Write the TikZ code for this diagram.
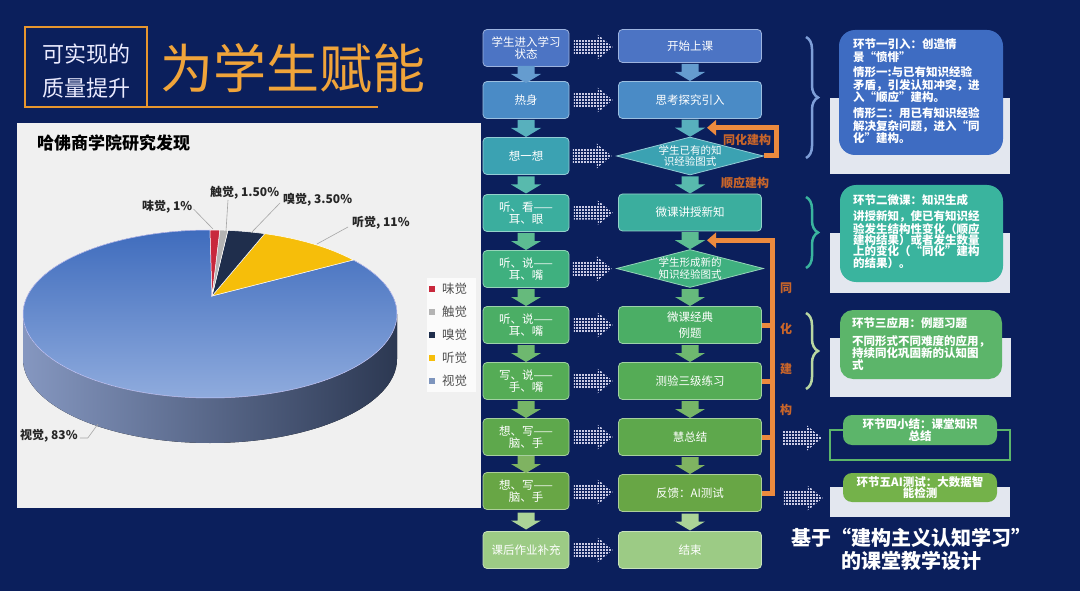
\documentclass[tikz,border=0pt]{standalone}
\usepackage{fontspec}
\setmainfont{Noto Sans CJK SC}
\usetikzlibrary{calc,decorations.pathreplacing,shapes.geometric,arrows.meta}
\definecolor{bg}{HTML}{0B1F5C}
\definecolor{orng}{HTML}{EC8A3E}
\definecolor{orngtxt}{HTML}{C9652A}
\definecolor{ttl}{HTML}{F0A43A}
\definecolor{ttlbox}{HTML}{E8962E}
\definecolor{panel}{HTML}{F0F0F0}
\definecolor{dotc}{HTML}{C9C9E4}
\definecolor{cA}{HTML}{4C74C4}
\definecolor{cB}{HTML}{4A8BC6}
\definecolor{cC}{HTML}{3BA2B2}
\definecolor{cD}{HTML}{3BAE9E}
\definecolor{cE}{HTML}{3FB07F}
\definecolor{cF}{HTML}{4BAE65}
\definecolor{cG}{HTML}{55AC56}
\definecolor{cH}{HTML}{5EA84C}
\definecolor{cI}{HTML}{68A645}
\definecolor{cJ}{HTML}{9CCB85}
\definecolor{pieRed}{HTML}{C8283C}
\definecolor{pieGrey}{HTML}{B4B4B4}
\definecolor{pieNavy}{HTML}{1F2E4C}
\definecolor{pieGold}{HTML}{F6BE0A}
\definecolor{pieTop}{HTML}{3F6CBD}
\definecolor{pieBot}{HTML}{94AFDF}
\definecolor{sideL}{HTML}{8597C0}
\definecolor{sideM}{HTML}{53638A}
\definecolor{sideR}{HTML}{2C3852}
\definecolor{rA}{HTML}{3E6CC2}
\definecolor{rB}{HTML}{3AB49E}
\definecolor{rC}{HTML}{5CB56A}
\definecolor{rE}{HTML}{74B24A}
\definecolor{greyr}{HTML}{E3E7EF}
\definecolor{braceA}{HTML}{7E9ED8}
\definecolor{braceC}{HTML}{B9D7A2}
\definecolor{lbl}{HTML}{262626}
\definecolor{lgd}{HTML}{505050}
\tikzset{
  flowbox/.style={rounded corners=4pt, fill=#1, draw=#1!55!white, line width=0.8pt,
    text=white, align=center, inner sep=1pt, minimum height=37pt,
    font=\fontsize{11.5}{12.5}\selectfont},
  lbox/.style={flowbox=#1, minimum width=86pt},
  mbox/.style={flowbox=#1, minimum width=143pt},
  dia/.style={diamond, fill=#1, draw=#1!55!white, line width=0.8pt,
    minimum width=147pt, minimum height=38pt, inner sep=0pt},
  diatext/.style={text=white, align=center, font=\fontsize{10.5}{11.5}\selectfont},
  card/.style={fill=#1, inner sep=0pt},
  greybox/.style={fill=greyr, inner sep=0pt},
  rtext/.style={text=white, align=left, anchor=north west, inner sep=0pt,
    font=\bfseries\fontsize{11.5}{12.3}\selectfont},
  ctext/.style={text=white, align=center, inner sep=0pt,
    font=\bfseries\fontsize{11.5}{11.5}\selectfont},
  fbline/.style={orng, line width=5pt},
  fbk/.style={fbline, -{Triangle[length=9pt,width=15pt]}},
  fbtext/.style={text=orngtxt, font=\bfseries\fontsize{12}{12}\selectfont, inner sep=0pt},
  plabel/.style={text=lbl, font=\bfseries\fontsize{12}{12}\selectfont, inner sep=0pt},
  leader/.style={draw=black!35, line width=0.6pt},
  lgdtext/.style={text=lgd, font=\fontsize{12.5}{12.5}\selectfont, anchor=west, inner sep=0pt},
  bracestyle/.style={decorate, decoration={brace, amplitude=12pt}, line width=2.5pt},
  pics/downarr/.style={code={\fill[#1] (-8.5,-8) -- (8.5,-8) -- (8.5,0) -- (15,0) -- (0,9) -- (-15,0) -- (-8.5,0) -- cycle;}},
  pics/dotarr/.style={code={
    \begin{scope}
    \clip (-20,-7) -- (4,-7) -- (4,-12.5) -- (19,0) -- (4,12.5) -- (4,7) -- (-20,7) -- cycle;
    \foreach \i in {0,...,13}{\foreach \j in {-4,...,4}{\fill[dotc] (-20.5+3*\i,3*\j-1) rectangle ++(2,2);}}
    \end{scope}}}
}
\begin{document}
\begin{tikzpicture}[x=1pt,y=-1pt]
\fill[bg] (0,0) rectangle (1080,591);
\useasboundingbox (0,0) rectangle (1080,591);

% ---------- title ----------
\draw[ttlbox, line width=2.5pt] (147,107) -- (25,107) -- (25,27) -- (147,27) -- (147,107) -- (378,107);
\node[text=white!92!blue, font=\fontsize{22}{22}\selectfont] (t1) at (86,54) {可实现的};
\node[text=white!92!blue, font=\fontsize{22}{22}\selectfont] (t2) at (86,88) {质量提升};
\node[text=ttl, font=\fontsize{53}{53}\selectfont] (t3) at (293,68) {为学生赋能};

% ---------- chart panel ----------
\fill[panel] (17,123) rectangle (481,508);
\node[text=black, font=\bfseries\fontsize{17}{17}\selectfont, anchor=west, inner sep=0pt] (ptitle) at (37,143) {哈佛商学院研究发现};

\coordinate (c) at (210,314);
\coordinate (apex) at (212,296);
% side
\fill[left color=sideL, middle color=sideM, right color=sideR]
  (23,314) -- (23,359) arc[start angle=180,end angle=0,x radius=187,y radius=84]
  -- (397,314) arc[start angle=0,end angle=180,x radius=187,y radius=84] -- cycle;
% slices
\fill[top color=pieTop, bottom color=pieBot, draw=white!80!blue, line width=0.5pt]
  (apex) -- ($(c)+(-40:187 and 84)$) arc[start angle=-40,end angle=270,x radius=187,y radius=84] -- cycle;
\fill[pieGold, draw=white!80, line width=0.5pt]
  (apex) -- ($(c)+(-73:187 and 84)$) arc[start angle=-73,end angle=-40,x radius=187,y radius=84] -- cycle;
\fill[pieNavy, draw=white!80, line width=0.5pt]
  (apex) -- ($(c)+(-84.5:187 and 84)$) arc[start angle=-84.5,end angle=-73,x radius=187,y radius=84] -- cycle;
\fill[pieGrey, draw=white!80, line width=0.5pt]
  (apex) -- ($(c)+(-87:187 and 84)$) arc[start angle=-87,end angle=-84.5,x radius=187,y radius=84] -- cycle;
\fill[pieRed, draw=white!80, line width=0.5pt]
  (apex) -- ($(c)+(-90:187 and 84)$) arc[start angle=-90,end angle=-87,x radius=187,y radius=84] -- cycle;

% labels
\node[plabel, anchor=west] (lw) at (142,207) {味觉, 1\%};
\node[plabel, anchor=west] (lc) at (210,193) {触觉, 1.50\%};
\node[plabel, anchor=west] (lx) at (283,200) {嗅觉, 3.50\%};
\node[plabel, anchor=west] (lt) at (352,223) {听觉, 11\%};
\node[plabel, anchor=west] (ls) at (20,436) {视觉, 83\%};
\coordinate (pw) at (213,229);
\coordinate (pc) at (226,231);
\coordinate (px) at (251,233);
\coordinate (pt) at (317,244);
\coordinate (ps) at (98,424);
\draw[leader] (lw.east) ++(1,2) -- (pw);
\draw[leader] (228,200) -- (pc);
\draw[leader] (lx.west) ++(-3,3) -- (px);
\draw[leader] (lt.west) ++(-4,4) -- (pt);
\draw[leader] (ls.east) ++(2,2) -- ++(8,0) -- (ps);

% legend
\fill[white!97!gray] (427,278) rectangle (476,392);
\fill[pieRed] (429,286) rectangle ++(6,6);
\fill[pieGrey] (429,309) rectangle ++(6,6);
\fill[pieNavy] (429,332) rectangle ++(6,6);
\fill[pieGold] (429,355) rectangle ++(6,6);
\fill[pieBot!85!black] (429,378) rectangle ++(6,6);
\node[lgdtext] (g1) at (442,289) {味觉};
\node[lgdtext] (g2) at (442,312) {触觉};
\node[lgdtext] (g3) at (442,335) {嗅觉};
\node[lgdtext] (g4) at (442,358) {听觉};
\node[lgdtext] (g5) at (442,381) {视觉};

% ---------- flow: left column ----------
\node[lbox=cA] (l1) at (526,48) {学生进入学习\\状态};
\node[lbox=cB] (l2) at (526,100) {热身};
\node[lbox=cC] (l3) at (526,156) {想一想};
\node[lbox=cD] (l4) at (526,213) {听、看——\\耳、眼};
\node[lbox=cE] (l5) at (526,269) {听、说——\\耳、嘴};
\node[lbox=cF] (l6) at (526,325) {听、说——\\耳、嘴};
\node[lbox=cG] (l7) at (526,381) {写、说——\\手、嘴};
\node[lbox=cH] (l8) at (526,437) {想、写——\\脑、手};
\node[lbox=cI] (l9) at (526,491) {想、写——\\脑、手};
\node[lbox=cJ] (l10) at (526,550) {课后作业补充};

% ---------- flow: middle column ----------
\node[mbox=cA, minimum height=33pt] (m1) at (690,46) {开始上课};
\node[mbox=cB] (m2) at (690,100) {思考探究引入};
\node[dia=cC] (d1) at (690,156) {};
\node[diatext] (d1t) at (d1) {学生已有的知\\识经验图式};
\node[mbox=cD] (m4) at (690,212.5) {微课讲授新知};
\node[dia=cE] (d2) at (690,268.5) {};
\node[diatext] (d2t) at (d2) {学生形成新的\\知识经验图式};
\node[mbox=cF] (m6) at (690,325) {微课经典\\[3pt]例题};
\node[mbox=cG] (m7) at (690,381) {测验三级练习};
\node[mbox=cH] (m8) at (690,437) {慧总结};
\node[mbox=cI] (m9) at (690,493) {反馈：AI测试};
\node[mbox=cJ] (m10) at (690,550) {结束};

% down arrows
\foreach \a/\b/\col in {l1/l2/cB, l2/l3/cC, l3/l4/cD, l4/l5/cE, l5/l6/cF, l6/l7/cG, l7/l8/cH, l8/l9/cI, l9/l10/cJ,
                      m1/m2/cB, m2/d1/cC, d1/m4/cD, m4/d2/cE, d2/m6/cF, m6/m7/cG, m7/m8/cH, m8/m9/cI, m9/m10/cJ}
  \pic at ($(\a.south)!.5!(\b.north)$) {downarr=\col!85!white};

% dotted arrows
\foreach \a/\b in {l1/m1, l2/m2, l3/d1, l4/m4, l5/d2, l6/m6, l7/m7, l8/m8, l9/m9, l10/m10}
  \pic at ($(\a.east)!.5!(\b.west)$) {dotarr};

% orange feedback loops
\coordinate (fb1) at ($(m2.south)!.5!(d1.north)+(17,0)$);
\draw[fbk] (d1.east) -- ++(13,0) |- (fb1);
\coordinate (fb2) at ($(m4.south)!.5!(d2.north)+(17,0)$);
\draw[fbk] (m9.east) -- ++(11,0) |- (fb2);
\draw[fbline] (m6.east) -- ++(11,0);
\draw[fbline] (m7.east) -- ++(11,0);
\draw[fbline] (m8.east) -- ++(11,0);
\node[fbtext] (f1) at (747,140) {同化建构};
\node[fbtext] (f2) at (745,183) {顺应建构};
\node[fbtext, align=center, font=\bfseries\fontsize{12}{40.5}\selectfont] (f3) at (786,349) {同\\化\\建\\构};

% ---------- right column ----------
\node[greybox, minimum width=180pt, minimum height=76pt] (ga) at (920,136) {};
\node[card=rA, minimum width=164pt, minimum height=125pt, rounded corners=16pt] (ra) at (921,92.5) {};
\node[rtext] (ta) at ($(ra.north west)+(14,9)$) {环节一引入：创造情\\景“愤悱”\\[3.5pt]情形一:与已有知识经验\\矛盾，引发认知冲突，进\\入“顺应”建构。\\[4pt]情形二：用已有知识经验\\解决复杂问题，进入“同\\化”建构。};
\draw[bracestyle, braceA] (806,37) -- (806,158);

\node[greybox, minimum width=180pt, minimum height=60pt] (gb) at (920,263) {};
\node[card=rB, minimum width=163pt, minimum height=97pt, rounded corners=16pt] (rb) at (921.5,233.5) {};
\node[rtext, font=\bfseries\fontsize{11.5}{11.3}\selectfont] (tb) at ($(rb.north west)+(13,9)$) {环节二微课：知识生成\\[5pt]讲授新知，使已有知识经\\验发生结构性变化（顺应\\建构结果）或者发生数量\\上的变化（“同化”建构\\的结果）。};
\draw[bracestyle, rB] (806,197) -- (806,268);

\node[greybox, minimum width=181pt, minimum height=59pt] (gc) at (920.5,367.5) {};
\node[card=rC, minimum width=162pt, minimum height=69pt, rounded corners=13pt] (rc) at (921,344.5) {};
\node[rtext, font=\bfseries\fontsize{11.5}{11.3}\selectfont] (tc) at ($(rc.north west)+(12,8)$) {环节三应用：例题习题\\[6pt]不同形式不同难度的应用，\\持续同化巩固新的认知图\\式};
\draw[bracestyle, braceC] (806,313) -- (806,389);

\node[draw=rC, line width=2pt, minimum width=180pt, minimum height=30pt, inner sep=0pt] (gd) at (920,445) {};
\node[card=rC, minimum width=154pt, minimum height=30pt, rounded corners=9pt] (rd) at (920,430) {};
\node[ctext] (td) at (rd) {环节四小结：课堂知识\\总结};

\node[greybox, minimum width=180pt, minimum height=30pt] (ge) at (920,502) {};
\node[card=rE, minimum width=154pt, minimum height=29pt, rounded corners=9pt] (re) at (920,487.5) {};
\node[ctext] (te) at (re) {环节五AI测试：大数据智\\能检测};

\pic at ($(gd.west)+(-26,-7)$) {dotarr};
\pic at ($(ge.west)+(-26,-4)$) {dotarr};

\node[text=white, align=center, font=\bfseries\fontsize{20}{23}\selectfont] (cap) at (911,549) {基于“建构主义认知学习”\\的课堂教学设计};
\end{tikzpicture}
\end{document}
